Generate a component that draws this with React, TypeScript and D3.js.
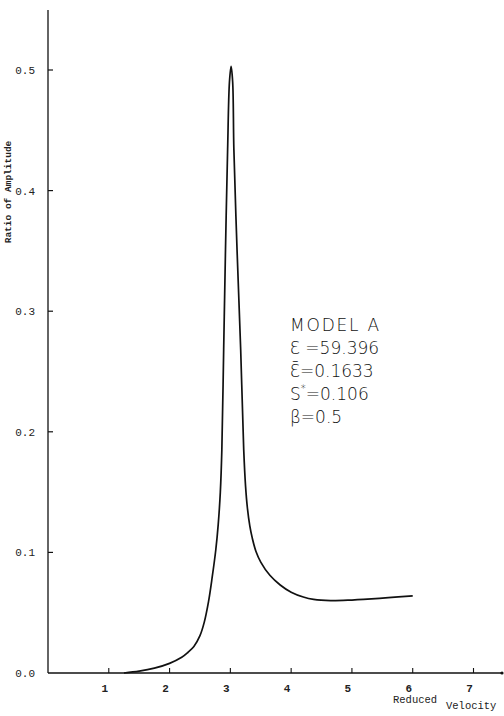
import React from "react";
import * as d3 from "d3";

const xTicks = [1, 2, 3, 4, 5, 6, 7];
const yTicks = [0.0, 0.1, 0.2, 0.3, 0.4, 0.5];
const yTickLabels = ["0.0", "0.1", "0.2", "0.3", "0.4", "0.5"];

const velocity = [
  1.25, 1.5, 1.75, 2.0, 2.2, 2.3, 2.4, 2.5, 2.57, 2.64, 2.7, 2.76, 2.8, 2.835, 2.86, 2.89, 2.92, 2.955,
  2.985, 3.012, 3.038, 3.058, 3.11, 3.17, 3.22, 3.25, 3.28, 3.32, 3.36, 3.42, 3.5, 3.65, 3.82, 4.0, 4.2,
  4.37, 4.65, 5.0, 5.19, 5.6, 6.0,
];
const amplitude = [
  0.0, 0.0015, 0.004, 0.008, 0.013, 0.017, 0.022, 0.031, 0.042, 0.059, 0.079, 0.102, 0.123, 0.15, 0.185,
  0.268, 0.351, 0.434, 0.49, 0.503, 0.49, 0.434, 0.351, 0.268, 0.185, 0.155, 0.137, 0.122, 0.112, 0.101,
  0.092, 0.081, 0.073, 0.067, 0.063, 0.061, 0.06, 0.0605, 0.061, 0.0625, 0.064,
];

const annotation = ["MODEL A", "Ɛ =59.396", "Ɛ̄=0.1633", "S", "β=0.5"];

export default function App() {
  const W = 504;
  const H = 716;
  const x = d3.scaleLinear().domain([0, 7]).range([48, 473.5]);
  const y = d3.scaleLinear().domain([0, 0.5]).range([673, 70]);
  const pts: [number, number][] = velocity.map((v, i) => [v, amplitude[i]]);
  const line = d3
    .line<[number, number]>()
    .x((d) => x(d[0]))
    .y((d) => y(d[1]))
    .curve(d3.curveCatmullRom.alpha(0.5));
  const mono = "'Liberation Mono', 'DejaVu Sans Mono', monospace";
  const thin = "'DejaVu Sans', 'Open Sans', sans-serif";
  const ax = x(0);
  const ay = y(0);
  return (
    <svg
      width={W}
      height={H}
      style={{ position: "absolute", left: 0, top: 0, background: "#fff" }}
    >
      <rect width={W} height={H} fill="#fff" />
      {/* axes */}
      <line x1={ax} y1={10} x2={ax} y2={ay} stroke="#111" strokeWidth={1.3} />
      <line x1={ax} y1={ay} x2={502} y2={ay} stroke="#111" strokeWidth={1.3} />
      <circle cx={502} cy={ay} r={1.6} fill="#111" />
      {yTicks.map((t, i) => (
        <g key={"y" + i}>
          {t > 0 && <line x1={ax} x2={ax + 5} y1={y(t)} y2={y(t)} stroke="#111" strokeWidth={1.2} />}
          <text
            x={35}
            y={y(t) + 4}
            textAnchor="end"
            fontFamily={mono}
            fontSize={11}
            fill="#222"
          >
            {yTickLabels[i]}
          </text>
        </g>
      ))}
      {xTicks.map((t) => (
        <g key={"x" + t}>
          <line x1={x(t)} x2={x(t)} y1={ay} y2={ay - 5} stroke="#111" strokeWidth={1.1} />
          <text
            x={x(t) - 4}
            y={ay + 19}
            textAnchor="middle"
            fontFamily={mono}
            fontSize={11}
            fontWeight="bold"
            fill="#222"
          >
            {t}
          </text>
        </g>
      ))}
      <text x={393} y={703} fontFamily={mono} fontSize={10.5} fill="#222">
        Reduced
      </text>
      <text x={446} y={709} fontFamily={mono} fontSize={10.5} fill="#222">
        Velocity
      </text>
      <text
        transform={`translate(11, 192) rotate(-90)`}
        textAnchor="middle"
        fontFamily={mono}
        fontSize={9.5}
        fontWeight="bold"
        fill="#222"
      >
        Ratio of Amplitude
      </text>
      {/* curve */}
      <path d={line(pts) || ""} fill="none" stroke="#111" strokeWidth={1.7} strokeLinejoin="round" />
      {/* annotation */}
      <g fontFamily={thin} fontWeight={200} fontSize={17} fill="#111">
        <text x={290} y={331} letterSpacing={1.8}>
          {annotation[0]}
        </text>
        <text x={290} y={354}>
          {annotation[1]}
        </text>
        <text x={290} y={377}>
          {annotation[2]}
        </text>
        <text x={290} y={400}>
          {annotation[3]}
          <tspan fontSize={10} dy={-8}>*</tspan>
          <tspan dy={8}>=0.106</tspan>
        </text>
        <text x={290} y={423}>
          {annotation[4]}
        </text>
      </g>
    </svg>
  );
}
